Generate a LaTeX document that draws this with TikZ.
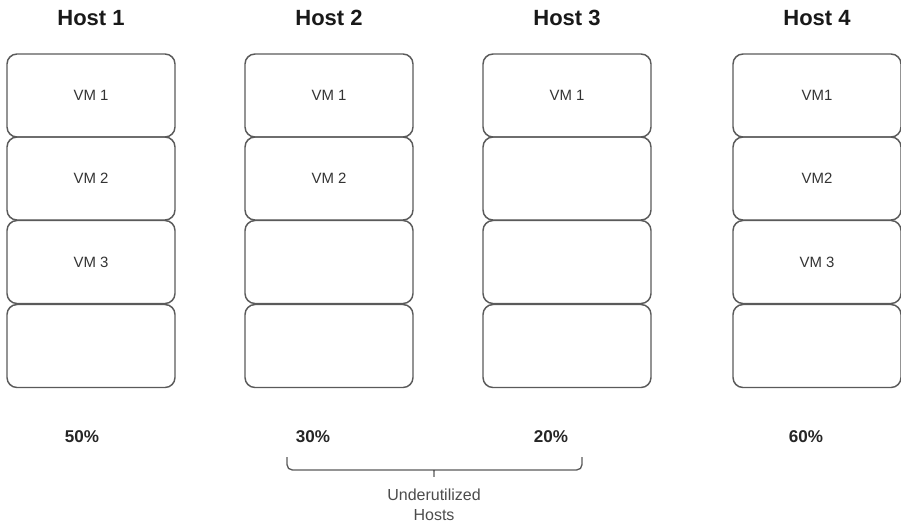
\documentclass[tikz,border=0pt]{standalone}
\usepackage{fontspec}
\setmainfont{Liberation Sans}
\definecolor{edge}{HTML}{5A5A5A}
\definecolor{txt}{HTML}{333333}
\begin{document}
\begin{tikzpicture}[x=0.75pt,y=-0.75pt,
  vmbox/.style={draw=edge,line width=1.1pt,rounded corners=7.5pt,minimum width=126pt,minimum height=62.25pt,inner sep=0pt,font=\fontsize{11.2}{13}\selectfont,text=txt},
  hosttitle/.style={font=\fontsize{16.5}{19}\selectfont\bfseries,text=black!90},
  pct/.style={font=\fontsize{12.8}{15}\selectfont\bfseries,text=black!85},
  bracepath/.style={draw=edge,line width=1pt,rounded corners=4pt},
  note/.style={font=\fontsize{12}{15}\selectfont,text=black!70,align=center}]
\useasboundingbox (0,0) rectangle (901,525);
% titles
\node[hosttitle] (t1) at (91,18) {Host 1};
\node[hosttitle] (t2) at (329,18) {Host 2};
\node[hosttitle] (t3) at (567,18) {Host 3};
\node[hosttitle] (t4) at (817,18) {Host 4};
% Host 1
\node[vmbox] (h1a) at (91,95.5) {VM 1};
\node[vmbox] (h1b) at (91,178.5) {VM 2};
\node[vmbox] (h1c) at (91,262) {VM 3};
\node[vmbox] (h1d) at (91,346) {};
% Host 2
\node[vmbox] (h2a) at (329,95.5) {VM 1};
\node[vmbox] (h2b) at (329,178.5) {VM 2};
\node[vmbox] (h2c) at (329,262) {};
\node[vmbox] (h2d) at (329,346) {};
% Host 3
\node[vmbox] (h3a) at (567,95.5) {VM 1};
\node[vmbox] (h3b) at (567,178.5) {};
\node[vmbox] (h3c) at (567,262) {};
\node[vmbox] (h3d) at (567,346) {};
% Host 4
\node[vmbox] (h4a) at (817,95.5) {VM1};
\node[vmbox] (h4b) at (817,178.5) {VM2};
\node[vmbox] (h4c) at (817,262) {VM 3};
\node[vmbox] (h4d) at (817,346) {};
% percentages
\node[pct] (p1) at (82,437) {50\%};
\node[pct] (p2) at (313,437) {30\%};
\node[pct] (p3) at (551,437) {20\%};
\node[pct] (p4) at (806,437) {60\%};
% brace
\coordinate (bl) at (287,457);
\coordinate (br) at (582,457);
\coordinate (bt) at (434,480);
\path[bracepath] (bl) -- (287,470) -- (429,470)
   .. controls (434,470) and (434,472) .. (bt)
   .. controls (434,472) and (434,470) .. (439,470)
   -- (582,470) -- (br);
\node[note] (u) at (434,505) {Underutilized\\Hosts};
\end{tikzpicture}
\end{document}
